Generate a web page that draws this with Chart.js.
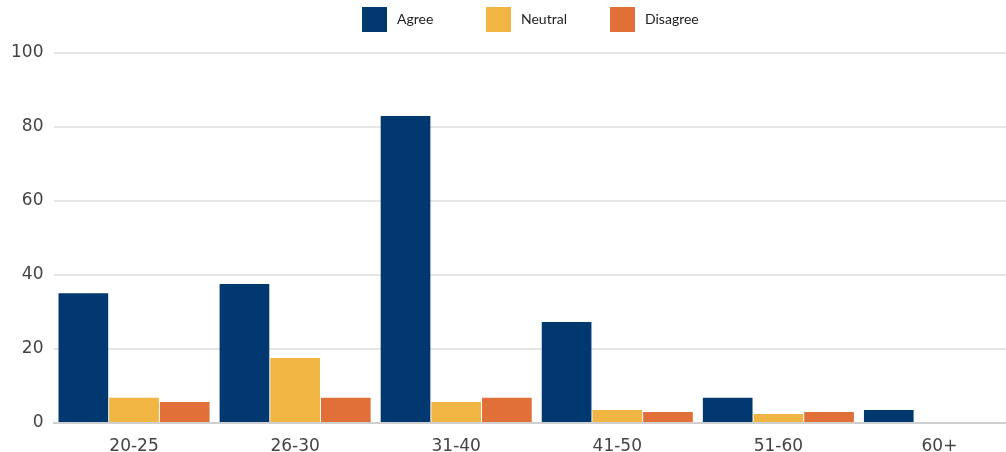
<!DOCTYPE html>
<html lang="en">
<head>
  <meta charset="UTF-8">
  <title>Responses by age group</title>
  <script src="https://cdn.jsdelivr.net/npm/chart.js"></script>
  <style>
    html, body { margin:0; padding:0; background:#fff; overflow:hidden; }
    #wrap { position:absolute; left:0; top:0; width:1022px; height:452px; }
  </style>
</head>
<body>

<div id="wrap">
  <canvas id="ageChart"></canvas>
</div>

<script>
const ageGroups = ['20-25', '26-30', '31-40', '41-50', '51-60', '60+'];
const agree    = [35.1, 37.6, 83.0, 27.3, 6.8, 3.5];
const neutral  = [6.8, 17.6, 5.7, 3.5, 2.4, 0];
const disagree = [5.7, 6.8, 6.8, 3.0, 3.0, 0];
const yTicks   = [0, 20, 40, 60, 80, 100];

const colors = { agree: '#00386f', neutral: '#f0b542', disagree: '#e07038' };

// legend with fixed-width items across the top
const topLegend = {
  id: 'topLegend',
  afterDraw(chart) {
    const ctx = chart.ctx;
    ctx.save();
    ctx.font = '14px Lato';
    ctx.textBaseline = 'middle';
    chart.data.datasets.forEach((ds, i) => {
      const x = 362 + i * 124;
      ctx.fillStyle = ds.backgroundColor;
      ctx.fillRect(x, 7, 25, 25);
      ctx.fillStyle = '#222';
      ctx.fillText(ds.label, x + 35, 19);
    });
    ctx.restore();
  }
};

new Chart(document.getElementById('ageChart'), {
  type: 'bar',
  data: {
    labels: ageGroups,
    datasets: [
      { label: 'Agree', data: agree, backgroundColor: colors.agree },
      { label: 'Neutral', data: neutral, backgroundColor: colors.neutral },
      { label: 'Disagree', data: disagree, backgroundColor: colors.disagree }
    ]
  },
  options: {
    responsive: true,
    maintainAspectRatio: false,
    animation: false,
    categoryPercentage: 0.944,
    barPercentage: 0.98,
    layout: { padding: { top: 53, left: 0, right: 2, bottom: 0 } },
    plugins: {
      legend: { display: false },
      tooltip: { enabled: false }
    },
    scales: {
      x: {
        grid: { display: false },
        border: { display: true, color: '#cfcfcf', width: 2 },
        ticks: {
          color: '#444',
          font: { family: 'DejaVu Sans', size: 17 },
          padding: 5,
          maxRotation: 0
        },
        afterFit(scale) { scale.height = 29; }
      },
      y: {
        min: 0,
        max: 100,
        afterBuildTicks(scale) { scale.ticks = yTicks.map(v => ({ value: v })); },
        grid: {
          color: ctx => ctx.tick && ctx.tick.value === 0 ? '#cfcfcf' : '#e6e6e6',
          lineWidth: 2,
          drawTicks: false
        },
        border: { display: false },
        ticks: {
          color: '#444',
          font: { family: 'DejaVu Sans', size: 17 },
          padding: 10
        },
        afterFit(scale) { scale.width = 53.5; }
      }
    }
  },
  plugins: [topLegend]
});
</script>
</body>
</html>
